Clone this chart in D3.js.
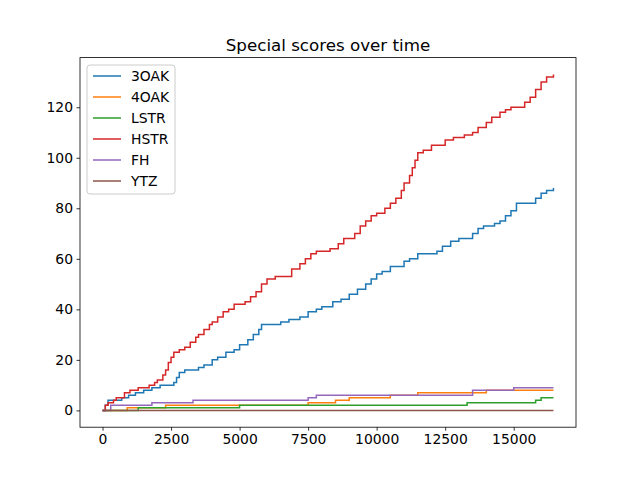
<!DOCTYPE html>
<html><head><meta charset="utf-8">
<script src="https://cdn.jsdelivr.net/npm/d3@7"></script>
<style>body{margin:0;background:#fff}text{font-family:"DejaVu Sans",sans-serif}</style>
</head><body>
<svg id="chart" width="640" height="480"></svg>
<script>
// step points: [time, cumulative count]
const seriesNames = ["3OAK", "4OAK", "LSTR", "HSTR", "FH", "YTZ"];
const colors = ["#1f77b4", "#ff7f0e", "#2ca02c", "#d62728", "#9467bd", "#8c564b"];
const oak3 = [[0,0],[100,2],[200,4],[700,5],[950,6],[1200,7],[1500,8],[1800,9],[2100,10],[2600,11],[2700,13],[2800,15],[3000,16],[3500,17],[3700,18],[4000,20],[4200,21],[4500,23],[4800,24],[5000,26],[5300,28],[5500,30],[5700,32],[5800,34],[6500,35],[6800,36],[7200,37],[7500,39],[7800,40],[8000,41],[8400,43],[8700,44],[9000,46],[9300,48],[9600,50],[9800,52],[10000,54],[10200,55],[10500,57],[11000,59],[11200,60],[11500,62],[12200,63],[12400,65],[12700,67],[13000,68],[13500,70],[13700,72],[13900,73],[14300,74],[14500,75],[14700,77],[14900,79],[15100,82],[15800,84],[16000,86],[16200,87],[16450,88]];
const oak4 = [[0,0],[900,1],[2300,2],[7500,3],[8500,4],[9000,5],[10500,6],[11500,7],[14000,8],[16450,8]];
const lstr = [[0,0],[1300,1],[5000,2],[13300,3],[15800,4],[16000,5],[16450,5]];
const hstr = [[0,0],[100,2],[200,3],[400,4],[500,5],[800,7],[1000,8],[1300,9],[1700,10],[1900,11],[2000,12],[2200,14],[2300,16],[2400,19],[2500,21],[2600,23],[2800,24],[3000,25],[3200,27],[3400,29],[3500,30],[3700,32],[3900,34],[4000,35],[4200,37],[4400,39],[4600,40],[4800,42],[5200,43],[5400,45],[5600,47],[5800,50],[6000,52],[6300,53],[6900,56],[7200,58],[7400,60],[7600,62],[7800,63],[8300,64],[8600,66],[8800,68],[9200,70],[9400,73],[9600,75],[9800,77],[10000,78],[10300,80],[10500,82],[10700,84],[10900,87],[11000,90],[11200,93],[11300,96],[11400,99],[11500,102],[11700,103],[12000,105],[12500,107],[12800,108],[13200,109],[13500,110],[13700,112],[14000,114],[14200,116],[14500,118],[14700,119],[14900,120],[15400,122],[15600,124],[15800,127],[16000,130],[16200,132],[16450,133]];
const fh = [[0,0],[300,2],[1800,3],[3300,4],[7500,5],[7800,6],[13500,8],[15000,9],[16450,9]];
const ytz = [[0,0],[16450,0]];
const allSeries = [oak3, oak4, lstr, hstr, fh, ytz];
const xTicks = [0, 2500, 5000, 7500, 10000, 12500, 15000];
const yTicks = [0, 20, 40, 60, 80, 100, 120];

const svg = d3.select("#chart"),
    margin = {top: 57.6, right: 64, bottom: 52.8, left: 80},
    width = 640, height = 480;

const x = d3.scaleLinear().domain([-822.5, 17272.5]).range([margin.left, width - margin.right]);
const y = d3.scaleLinear().domain([-6.65, 139.65]).range([height - margin.bottom, margin.top]);

const line = d3.line().curve(d3.curveStepAfter).x(d => x(d[0])).y(d => y(d[1]));

allSeries.forEach((s, i) => {
    svg.append("path").attr("d", line(s)).attr("fill", "none")
        .attr("stroke", colors[i]).attr("stroke-width", 1.5);
});

svg.append("rect").attr("x", margin.left).attr("y", margin.top)
    .attr("width", width - margin.left - margin.right).attr("height", height - margin.top - margin.bottom)
    .attr("fill", "none").attr("stroke", "#000").attr("stroke-width", 0.8);

const xa = svg.append("g").attr("transform", "translate(0," + (height - margin.bottom) + ")")
    .call(d3.axisBottom(x).tickValues(xTicks).tickSize(3.5).tickPadding(3.5).tickFormat(d3.format("d")));
const ya = svg.append("g").attr("transform", "translate(" + margin.left + ",0)")
    .call(d3.axisLeft(y).tickValues(yTicks).tickSize(3.5).tickPadding(3.5).tickFormat(d3.format("d")));
[xa, ya].forEach(a => {
    a.select(".domain").remove();
    a.selectAll("text").attr("font-size", 13.9).attr("fill", "#000").style("font-family", "DejaVu Sans");
    a.selectAll("line").attr("stroke", "#000").attr("stroke-width", 0.8);
});

svg.append("text").attr("x", (margin.left + width - margin.right) / 2).attr("y", margin.top - 7)
    .attr("text-anchor", "middle").attr("font-size", 16.7).text("Special scores over time");

// Legend
const lg = svg.append("g").attr("transform", "translate(87,65)");
lg.append("rect").attr("width", 88).attr("height", 129).attr("rx", 3)
    .attr("fill", "#fff").attr("fill-opacity", 0.8).attr("stroke", "#ccc");
seriesNames.forEach((n, i) => {
    const yy = 11 + i * 21;
    lg.append("line").attr("x1", 6).attr("x2", 34).attr("y1", yy).attr("y2", yy)
        .attr("stroke", colors[i]).attr("stroke-width", 1.5);
    lg.append("text").attr("x", 44).attr("y", yy + 5).attr("font-size", 13.9).text(n);
});
</script>
</body></html>
